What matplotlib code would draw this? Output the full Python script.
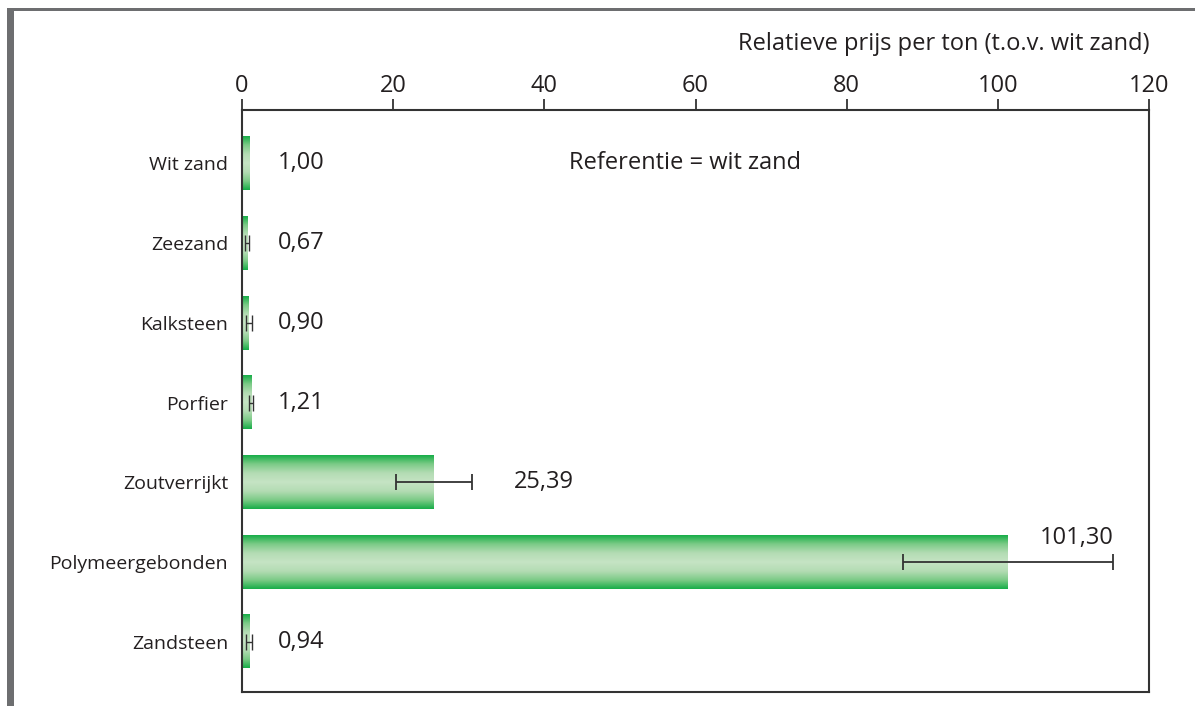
import numpy as np
import matplotlib
matplotlib.use("Agg")
import matplotlib.pyplot as plt
from matplotlib.colors import LinearSegmentedColormap
from matplotlib.patches import Rectangle

plt.rcParams['font.family'] = ['Open Sans', 'DejaVu Sans']

categories = ["Wit zand", "Zeezand", "Kalksteen", "Porfier", "Zoutverrijkt",
              "Polymeergebonden", "Zandsteen"]
values = [1.00, 0.67, 0.90, 1.21, 25.39, 101.30, 0.94]
errors = [0.0, 0.3, 0.4, 0.3, 5.0, 13.9, 0.35]
value_labels = ["1,00", "0,67", "0,90", "1,21", "25,39", "101,30", "0,94"]
xticks = [0, 20, 40, 60, 80, 100, 120]

W, H = 1195, 706
fig = plt.figure(figsize=(W / 100, H / 100), dpi=100)
ax = fig.add_axes([242 / W, 1 - 692 / H, (1149 - 242) / W, (692 - 110) / H])

cmap = LinearSegmentedColormap.from_list(
    "g", ["#17ad48", "#7ccb87", "#b4dcb4", "#c6e4c4", "#b4dcb4", "#7ccb87", "#17ad48"])
grad = np.linspace(0, 1, 256).reshape(-1, 1)

bh = 0.67
ypos = np.arange(len(categories))
for y, v, e in zip(ypos, values, errors):
    ax.imshow(grad, cmap=cmap, aspect="auto", interpolation="bilinear",
              extent=[0, v, y + bh / 2, y - bh / 2], zorder=2)
    if e > 0:
        ax.errorbar(v, y, xerr=e, fmt="none", ecolor="#333333",
                    elinewidth=1.3 if v > 5 else 1.0,
                    capsize=6, capthick=1.3 if v > 5 else 1.0, zorder=3)

fs = 17
for y, v, e, lab in zip(ypos, values, errors, value_labels):
    if v > 50:
        ax.text(v + 9.2, y - 0.3, lab, ha="center", va="center", fontsize=fs,
                color="#231f20")
    elif v > 5:
        ax.text(v + e + 5.6, y, lab, ha="left", va="center", fontsize=fs,
                color="#231f20")
    else:
        ax.text(4.8, y, lab, ha="left", va="center", fontsize=fs, color="#231f20")

ax.text(43.2, 0, "Referentie = wit zand", ha="left", va="center", fontsize=fs,
        color="#231f20")

ax.set_xlim(0, 120)
ax.set_ylim(6.63, -0.67)
ax.set_yticks(ypos)
ax.set_yticklabels(categories, fontsize=14, color="#231f20")
ax.tick_params(axis="y", length=0, pad=10)
ax.xaxis.tick_top()
ax.set_xticks(xticks)
ax.set_xticklabels([str(t) for t in xticks], fontsize=fs, color="#231f20")
ax.tick_params(axis="x", length=8, width=1.3, color="#333333", pad=1)
for s in ax.spines.values():
    s.set_color("#333333")
    s.set_linewidth(1.5)
ax.set_xlabel("Relatieve prijs per ton (t.o.v. wit zand)", fontsize=fs,
              color="#231f20")
ax.xaxis.set_label_position("top")
ax.xaxis.label.set_horizontalalignment("right")
ax.xaxis.set_label_coords(1.0, 1.0 + 54 / 582)
ax.xaxis.label.set_verticalalignment("bottom")

# grey frame
fig.add_artist(Rectangle((7 / W, 0), 7 / W, 1 - 8 / H, transform=fig.transFigure,
                         color="#6d6e70", lw=0))
fig.add_artist(Rectangle((7 / W, 1 - 11 / H), 1, 3 / H, transform=fig.transFigure,
                         color="#6d6e70", lw=0))

fig.savefig("out.png", dpi=100)
